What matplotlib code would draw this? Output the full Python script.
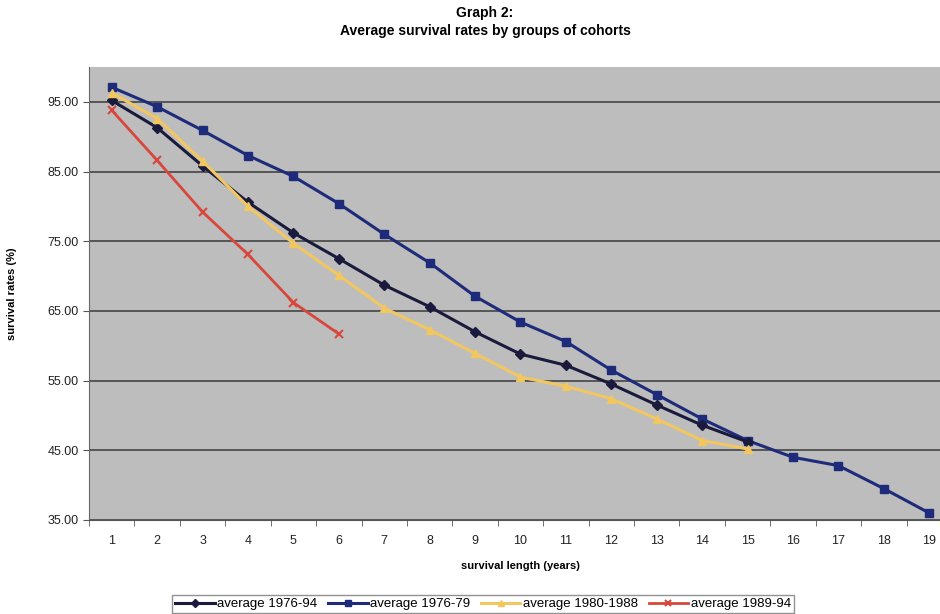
import matplotlib.pyplot as plt

plt.rcParams.update({
    "font.family": ["Liberation Sans", "DejaVu Sans"],
    "font.size": 9,
})

# data
years = list(range(1, 20))
avg_1976_94 = [95.2, 91.3, 85.8, 80.6, 76.2, 72.5, 68.7, 65.6, 62.0, 58.8,
               57.2, 54.5, 51.5, 48.6, 46.2]
avg_1976_79 = [97.1, 94.3, 90.9, 87.3, 84.3, 80.4, 76.0, 71.9, 67.1, 63.4,
               60.6, 56.5, 53.0, 49.5, 46.4, 44.0, 42.8, 39.5, 36.0]
avg_1980_88 = [96.3, 92.6, 86.5, 80.0, 74.7, 70.1, 65.4, 62.3, 58.9, 55.5,
               54.2, 52.4, 49.5, 46.4, 45.2]
avg_1989_94 = [93.8, 86.6, 79.2, 73.1, 66.2, 61.7]

fig = plt.figure(figsize=(9.4, 6.14), dpi=100)
ax = fig.add_axes([89 / 940, 94 / 614, 863 / 940, 453 / 614])
ax.set_facecolor("#bdbdbd")

ax.plot(years[:len(avg_1976_94)], avg_1976_94, color="#1a1a3c", marker="D",
        markersize=5, linewidth=2.2, label="average 1976-94", zorder=4)
ax.plot(years[:len(avg_1976_79)], avg_1976_79, color="#1e2b7a", marker="s",
        markersize=5.5, linewidth=2.2, label="average 1976-79", zorder=3)
ax.plot(years[:len(avg_1980_88)], avg_1980_88, color="#f3c760", marker="^",
        markersize=6, linewidth=2.2, label="average 1980-1988", zorder=5)
ax.plot(years[:len(avg_1989_94)], avg_1989_94, color="#d8473c", marker="x",
        markersize=6, markeredgewidth=1.5, linewidth=2.0,
        label="average 1989-94", zorder=6)

ax.set_xlim(0.5, 19.5)
ax.set_ylim(35, 100)
ax.set_xticks(years)
ax.set_xticks([y + 0.5 for y in range(0, 19)], minor=True)
ax.set_yticks([35, 45, 55, 65, 75, 85, 95])
ax.set_yticklabels(["35.00", "45.00", "55.00", "65.00", "75.00", "85.00", "95.00"])
ax.tick_params(axis="x", which="major", length=0, pad=11, labelsize=9, colors="#222222")
ax.tick_params(axis="x", which="minor", length=4, color="#555555")
ax.tick_params(axis="y", length=4, color="#555555", labelsize=9, labelcolor="#222222")
ax.grid(True, axis="y", color="#3a3a3a", linewidth=1.1)
ax.set_axisbelow(True)
for s in ["top", "right"]:
    ax.spines[s].set_visible(False)
ax.spines["left"].set_color("#666666")
ax.spines["bottom"].set_color("#555555")

ax.set_xlabel("survival length (years)", fontsize=8, fontweight="bold", labelpad=10)
ax.set_ylabel("survival rates (%)", fontsize=8, fontweight="bold", labelpad=22)

fig.text(485 / 940, 1 - 6 / 614, "Graph 2:\nAverage survival rates by groups of cohorts",
         ha="center", va="top", fontsize=10, fontweight="bold", linespacing=1.35)

fig.legend(loc="center", bbox_to_anchor=(483 / 940, 1 - 604 / 614), ncol=4,
           fontsize=9.5, frameon=True, fancybox=False, edgecolor="#777777",
           handlelength=3.0, handletextpad=0.2, columnspacing=0.8,
           borderpad=0.2, markerscale=0.8)

fig.savefig("out.png", dpi=100)
